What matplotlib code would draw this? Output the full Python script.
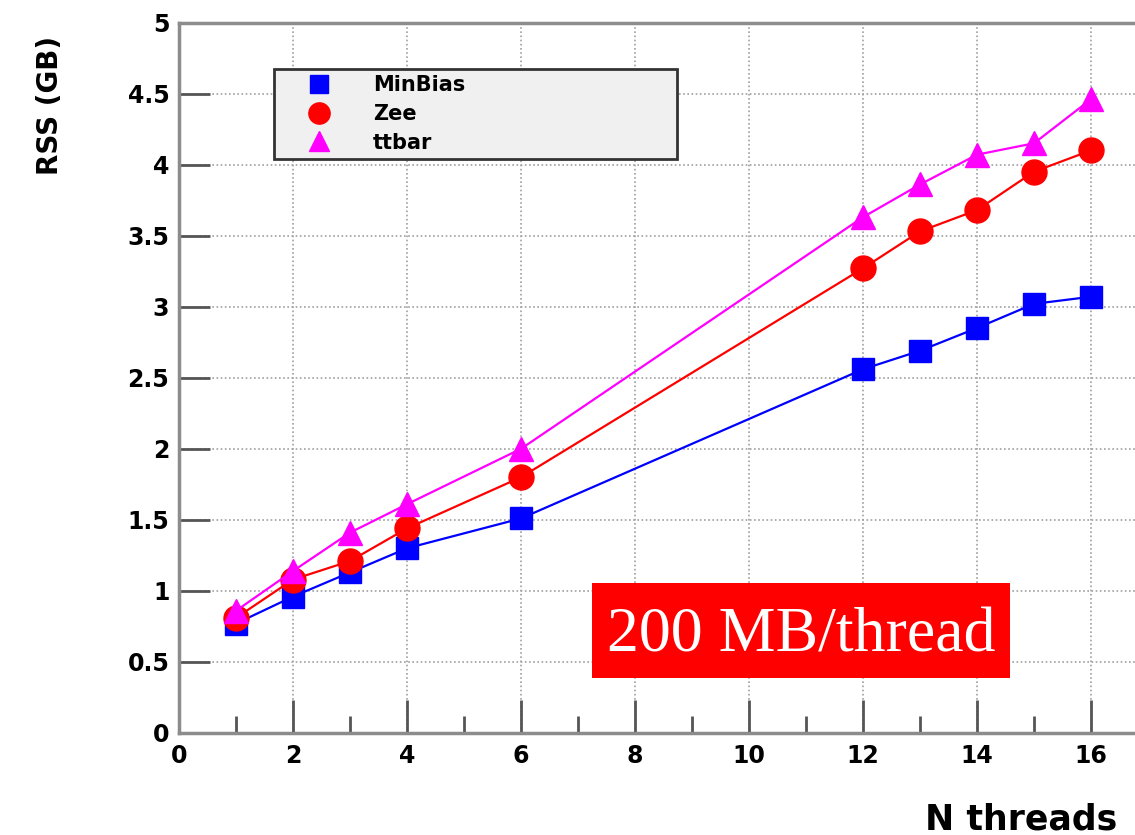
import matplotlib
matplotlib.use("Agg")
import matplotlib.pyplot as plt
from matplotlib.lines import Line2D
from matplotlib.patches import Rectangle
from matplotlib.ticker import MultipleLocator, FuncFormatter

threads = [1, 2, 3, 4, 6, 12, 13, 14, 15, 16]
minbias = [0.77, 0.96, 1.13, 1.30, 1.51, 2.56, 2.69, 2.85, 3.02, 3.07]
zee = [0.81, 1.08, 1.21, 1.44, 1.80, 3.27, 3.53, 3.68, 3.95, 4.10]
ttbar = [0.86, 1.14, 1.41, 1.61, 2.00, 3.63, 3.86, 4.07, 4.15, 4.46]
series_names = ["MinBias", "Zee", "ttbar"]
x_label = "N threads"
y_label = "RSS (GB)"
annotation = "200 MB/thread"

W, H = 1135, 835
fig = plt.figure(figsize=(W / 100, H / 100), dpi=100)
fig.patch.set_facecolor("white")

def fx(px):
    return px / W

def fy(py):
    return 1 - py / H

x0px, y0px, topx = 179, 733, 22.5
ppu = 57.0
xmax = 17
ax = fig.add_axes([fx(x0px), fy(y0px), xmax * ppu / W, (y0px - topx) / H])
ax.set_xlim(0, xmax)
ax.set_ylim(0, 5)

spine_c = "#8c8c8c"
for s in ["left", "bottom", "top", "right"]:
    ax.spines[s].set_color(spine_c)
    ax.spines[s].set_linewidth(2.5)

ax.xaxis.set_major_locator(MultipleLocator(2))
ax.xaxis.set_minor_locator(MultipleLocator(1))
ax.yaxis.set_major_locator(MultipleLocator(0.5))

ax.grid(True, which="major", color="#a0a0a0", linestyle=(0, (1, 1.5)), linewidth=1.2)
ax.set_axisbelow(True)

ax.tick_params(axis="x", which="major", direction="in", length=24, width=2,
               color="#555555", pad=8, labelsize=17)
ax.tick_params(axis="x", which="minor", direction="in", length=12, width=2,
               color="#555555")
ax.tick_params(axis="y", which="major", direction="in", length=22, width=2,
               color="#555555", pad=7, labelsize=17)

def fmt(v, pos):
    return "%g" % v

ax.xaxis.set_major_formatter(FuncFormatter(fmt))
ax.yaxis.set_major_formatter(FuncFormatter(fmt))
for lab in ax.get_xticklabels() + ax.get_yticklabels():
    lab.set_fontweight("bold")

styles = [("#0000ff", "s", 16), ("#ff0000", "o", 18), ("#ff00ff", "^", 17)]
data = [minbias, zee, ttbar]
for (c, m, ms), ys in zip(styles, data):
    ax.plot(threads, ys, color=c, linewidth=1.6, marker=m, markersize=ms,
            markeredgecolor=c, clip_on=False, zorder=3)

handles = [Line2D([], [], color=c, marker=m, markersize=ms * 0.85, linestyle="none",
                  markeredgecolor=c)
           for (c, m, ms) in styles]
leg = ax.legend(handles, series_names, loc="upper left",
                bbox_to_anchor=(fx(274), fy(165), fx(677) - fx(274), fy(69) - fy(165)),
                bbox_transform=fig.transFigure, mode="expand", borderaxespad=0,
                prop=dict(size=15, weight="bold"), handlelength=3.7,
                handletextpad=0.75, labelspacing=0.42, borderpad=0.3,
                fancybox=False, framealpha=1, facecolor="#f0f0f0",
                edgecolor="#333333")
leg.get_frame().set_linewidth(2)

ax.set_xlabel(x_label, fontsize=25, fontweight="bold", ha="left", va="top")
ax.xaxis.set_label_coords((925 - x0px) / (xmax * ppu), (y0px - 803) / (y0px - topx))
ax.set_ylabel(y_label, fontsize=20, fontweight="bold")
ax.yaxis.set_label_coords((64 - x0px) / (xmax * ppu), (y0px - 105) / (y0px - topx))

fig.patches.append(Rectangle((fx(592), fy(678)), fx(1010) - fx(592), fy(583) - fy(678),
                             transform=fig.transFigure, facecolor="#ff0000",
                             edgecolor="none", zorder=10))
fig.text(fx(801), fy(630), annotation, color="white", fontsize=46,
         family="Liberation Serif", ha="center", va="center_baseline", zorder=11)

fig.savefig("out.png", dpi=100)
